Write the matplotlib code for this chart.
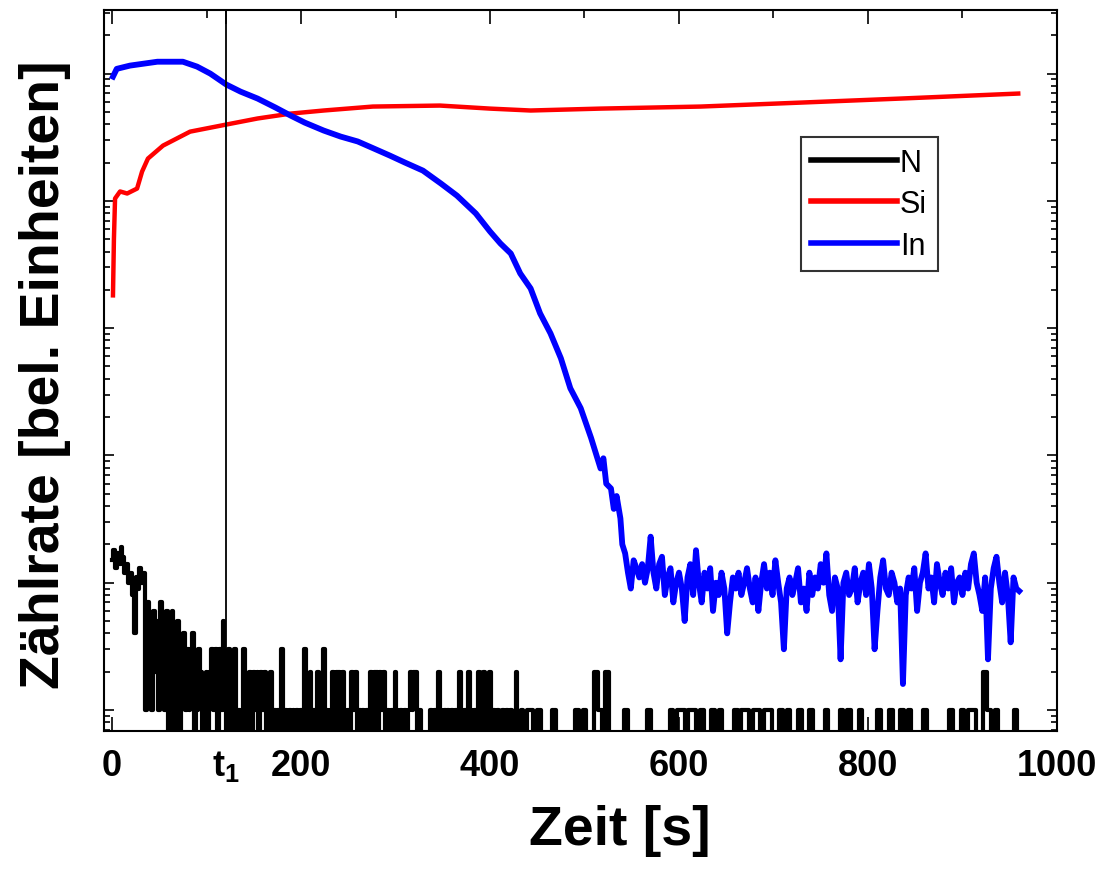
import numpy as np
import matplotlib
matplotlib.use('Agg')
import matplotlib.pyplot as plt
from matplotlib.ticker import MultipleLocator, LogLocator, NullFormatter

plt.rcParams['font.family'] = ['Liberation Sans', 'DejaVu Sans']
plt.rcParams['mathtext.fontset'] = 'custom'
plt.rcParams['mathtext.bf'] = 'Liberation Sans:bold'
plt.rcParams['mathtext.rm'] = 'Liberation Sans'
plt.rcParams['path.simplify'] = False

# ---- data ----
t1 = 121

# Si (red)
si_t = [1, 2, 3.2, 8.5, 16, 26.5, 31.8, 38, 54, 82.6, 121, 154, 189, 224, 276,
        347, 400, 443, 517, 623, 729, 835, 959]
si_v = [1810, 5000, 10440, 11860, 11430, 12500, 17000, 21500, 27200, 35000,
        39800, 44400, 48500, 51300, 55100, 56100, 53100, 51300, 53100, 55100,
        59200, 63700, 69700]

# In (blue), smooth part
in_t = [1, 5, 19, 48, 75, 90, 104, 121, 136, 154, 173, 189, 204, 224, 242,
        260, 277, 294, 310, 329, 348, 365, 385, 400, 411, 422, 432, 443, 453,
        464, 475, 485, 496, 507, 512, 517, 520, 523, 528, 531, 534, 538]
in_v = [94700, 109000, 115600, 124000, 124000, 113500, 100000, 82000, 72200,
        63700, 54100, 46800, 41200, 35700, 32000, 29300, 25800, 22700, 20000,
        17300, 13700, 11000, 7960, 5750, 4630, 3860, 2690, 2050, 1306, 910,
        580, 337, 235, 137, 104, 79, 95, 60, 55, 38, 48, 32]

# In (blue), noisy tail, every 3 s from 540 s to 960 s
in_tail = [20, 17, 12, 9, 15, 13, 11,
           14, 10, 13, 23, 12, 9, 14, 16, 8, 11, 13, 7, 10, 12,
           9, 5, 11, 14, 8, 18, 10, 7, 12, 9, 13, 6, 10, 8, 12, 9, 4, 7, 11, 9,
           12, 8, 10, 13, 9, 7, 11, 6, 10, 14, 9, 12, 8, 15, 10, 7, 3, 9, 11, 8,
           10, 13, 7, 9, 6, 12, 8, 11, 9, 14, 10, 17, 8, 6, 11, 9, 2.5, 10, 12, 8,
           9, 13, 7, 10, 12, 8, 14, 9, 3, 6, 11, 15, 9, 8, 12, 10, 7, 9, 1.6, 8,
           11, 9, 13, 6, 10, 12, 17, 9, 11, 7, 14, 10, 8, 12, 9, 13, 7, 10, 11, 8,
           12, 9, 14, 17, 10, 8, 6, 11, 2.5, 9, 13, 16, 10, 7, 12, 8, 3.4, 11, 9, 8.6]

# N (black), counts every 2 s from 0 s to 440 s ...
n_counts_fine = [15, 18, 13, 17, 14, 19, 16, 12,
                 14, 10, 12, 8, 4, 11, 9, 13, 10,
                 12, 1, 7, 3,
                 1, 6, 2, 5, 1, 7, 3, 1, 6,
                 0, 2, 6, 0, 1, 5, 0, 2,
                 4, 1, 3, 1, 2, 4, 0, 1, 3,
                 2, 0, 1, 2, 0, 2,
                 3, 1, 3, 0, 3, 1, 5, 2,
                 0, 3, 1, 0, 3, 0, 1, 0, 1, 3,
                 0, 1, 2, 0, 2, 1, 2, 0, 2, 1,
                 2, 0, 1, 2, 0, 1, 0, 1, 0, 3,
                 0, 1, 0, 1, 0, 1, 0, 1, 0, 1,
                 0, 3, 0, 1, 2, 0, 1, 0, 2, 1,
                 0, 3, 0, 1, 0, 1, 2, 0, 2, 2,
                 0, 2, 1, 0, 1, 0, 2, 1, 2, 0,
                 1, 0, 1, 0, 1, 0, 2, 0, 2, 2,
                 0, 2, 1, 2, 0, 1, 0, 1, 0, 2,
                 1, 0, 1, 0, 1, 0, 1, 2, 1, 2,
                 2, 0, 1, 0, 0, 0, 0, 0, 1, 0,
                 1, 0, 2, 1, 0, 1, 0, 1, 0, 1,
                 0, 1, 0, 2, 1, 0, 1, 0, 2, 1,
                 0, 1, 0, 2, 0, 1, 2, 0, 1, 2,
                 0, 1, 0, 1, 0, 0, 1, 0, 1, 0,
                 1, 0, 0, 2, 0, 0, 1, 0, 0, 1]
# ... then every 4 s from 444 s to 960 s
n_counts_coarse = [1, 0, 1, 0, 0, 0, 1, 0, 0,
                   0, 0, 0, 1, 0, 1, 0, 0, 2, 1,
                   0, 2, 0, 0, 0, 0, 1, 0, 0, 0,
                   0, 0, 1, 0, 0, 0, 0, 0, 1, 0,
                   1, 1, 0, 1, 1, 0, 1, 0, 0, 1,
                   0, 1, 0, 0, 0, 1, 0, 1, 1, 0,
                   1, 1, 0, 1, 1, 0, 0, 1, 0, 1,
                   0, 0, 1, 0, 0, 1, 0, 0, 0, 1,
                   0, 0, 0, 1, 0, 1, 0, 0, 1, 0,
                   0, 0, 0, 1, 0, 0, 1, 0, 0, 1,
                   0, 1, 0, 0, 0, 1, 0, 0, 0, 0,
                   0, 0, 1, 0, 0, 1, 0, 1, 1, 0,
                   0, 2, 1, 0, 1, 0, 0, 0, 0, 1,
                   0]

xticks = [0, t1, 200, 400, 600, 800, 1000]
xticklabels = ['0', r'$\mathbf{t_1}$', '200', '400', '600', '800', '1000']

# ---- plot ----
n_t = np.concatenate([np.arange(0, 441, 2), np.arange(444, 961, 4)])
n_all = n_counts_fine + n_counts_coarse
tail_t = np.arange(540, 961, 3)
in_all_t = np.concatenate([in_t, tail_t])
in_all_v = np.concatenate([in_v, in_tail])

fig = plt.figure(figsize=(11.04, 8.78), dpi=100)
ax = fig.add_axes([0.0942, 0.1663, 0.8632, 0.8212])

ax.plot(n_t, n_all, color='black', lw=3, drawstyle='steps-mid', label='N')
ax.plot(si_t, si_v, color='red', lw=3.2, label='Si')
ax.plot(in_all_t, in_all_v, color='blue', lw=4.2, label='In')
ax.axvline(t1, color='black', lw=1.3)

ax.set_yscale('log', nonpositive='clip')
ax.set_ylim(10**-0.165, 10**5.5)
ax.set_xlim(-8.5, 1000)

ax.set_xticks(xticks)
ax.set_xticklabels(xticklabels, fontsize=26, fontweight='bold')
ax.xaxis.set_minor_locator(MultipleLocator(100))
ax.yaxis.set_major_locator(LogLocator(base=10, numticks=20))
ax.yaxis.set_minor_locator(LogLocator(base=10, subs=np.arange(2, 10), numticks=20))
ax.yaxis.set_major_formatter(NullFormatter())
ax.yaxis.set_minor_formatter(NullFormatter())

ax.tick_params(which='both', direction='in', top=True, right=True, width=1.2)
ax.tick_params(axis='x', which='major', length=10, pad=12)
ax.tick_params(axis='x', which='minor', length=6)
ax.tick_params(axis='y', which='major', length=7)
ax.tick_params(axis='y', which='minor', length=4.5)
for s in ax.spines.values():
    s.set_linewidth(1.5)

leg = ax.legend(loc='upper left', bbox_to_anchor=(0.731, 0.824), fontsize=22,
                handlelength=2.8, handletextpad=0.1, labelspacing=0.38,
                borderpad=0.35, borderaxespad=0, fancybox=False, frameon=True)
leg.get_frame().set_edgecolor('black')
leg.get_frame().set_linewidth(1.5)
for line in leg.get_lines():
    line.set_linewidth(4)

fig.text(620/1104, 1-831/878, 'Zeit [s]', fontsize=40, fontweight='bold',
         ha='center', va='center')
fig.text(45/1104, 1-375/878, 'Zählrate [bel. Einheiten]', fontsize=40,
         fontweight='bold', rotation=90, ha='center', va='center')

fig.savefig('out.png', dpi=100)
